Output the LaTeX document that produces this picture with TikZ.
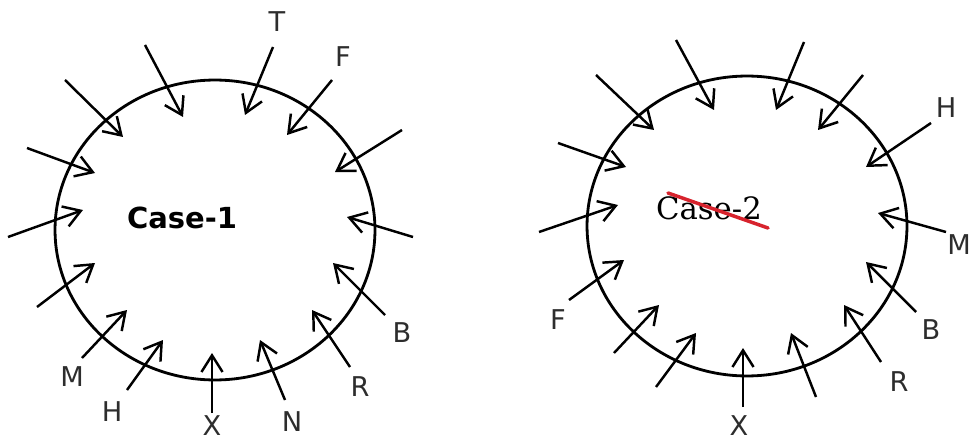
\documentclass[tikz,border=0pt]{standalone}
\usepackage{fontspec}
\setmainfont{DejaVu Sans}
\newfontfamily\caseserif{DejaVu Serif}
\usetikzlibrary{shapes.geometric, arrows.meta}
\definecolor{strikered}{RGB}{215,35,45}
\definecolor{tagdark}{RGB}{45,45,45}

\begin{document}
\begin{tikzpicture}[x=0.02cm, y=-0.02cm,
    ring/.style={ellipse, draw, line width=1.6pt, minimum width=6.4cm, minimum height=6cm},
    inarrow/.style={-{Straight Barb[length=9.5pt, width=12pt]}, line width=1.4pt},
    tag/.style={font=\fontsize{15.5}{18}\selectfont, text=tagdark, inner sep=0pt}]
\clip (0,0) rectangle (972,442);

% case 1
\node[ring] (ringA) at (215,230) {};
\node[font=\fontsize{16.5}{20}\selectfont\bfseries] (caseA) at (182,218) {Case-1};
\foreach \i/\sx/\sy/\ex/\ey in {1/65/80/123/137, 2/145/45/183/117, 3/273/47/245/115,
    4/332/80/287/135, 5/402/130/335/172, 6/413/237/347/217, 7/385/315/333/263,
    8/350/367/312/310, 9/285/400/260/340, 10/212/413/212/353, 11/127/390/163/340,
    12/82/358/127/310, 13/37/307/95/263, 14/8/237/83/210, 15/27/148/95/173} {
  \coordinate (a\i) at (\sx,\sy);
  \coordinate (ai\i) at (\ex,\ey);
  \draw[inarrow] (a\i) -- (ai\i);
}
\foreach \t/\x/\y in {T/277/22, F/343/57, B/402/333, R/360/387, N/292/422,
    X/212/426, H/112/412, M/72/377}
  \node[tag] (tA\t) at (\x,\y) {\t};

% case 2
\node[ring] (ringB) at (747,226) {};
\node[font=\fontsize{17.5}{20}\selectfont\caseserif] (caseB) at (709,208) {Case-2};
\draw[strikered, line width=2pt, line cap=round] (668,193) -- (768,228);
\foreach \i/\sx/\sy/\ex/\ey in {1/596/75/654/130, 2/676/40/714/110, 3/804/42/776/110,
    4/863/75/818/130, 5/931/123/866/167, 6/946/232/878/213, 7/916/312/866/262,
    8/881/362/844/305, 9/816/397/791/333, 10/743/407/743/348, 11/656/387/696/333,
    12/614/353/659/305, 13/569/300/624/260, 14/539/232/618/205, 15/558/143/626/167} {
  \coordinate (b\i) at (\sx,\sy);
  \coordinate (bi\i) at (\ex,\ey);
  \draw[inarrow] (b\i) -- (bi\i);
}
\foreach \t/\x/\y in {H/946/108, M/959/245, B/931/330, R/899/382, X/739/426, F/558/320}
  \node[tag] (tB\t) at (\x,\y) {\t};
\end{tikzpicture}
\end{document}
